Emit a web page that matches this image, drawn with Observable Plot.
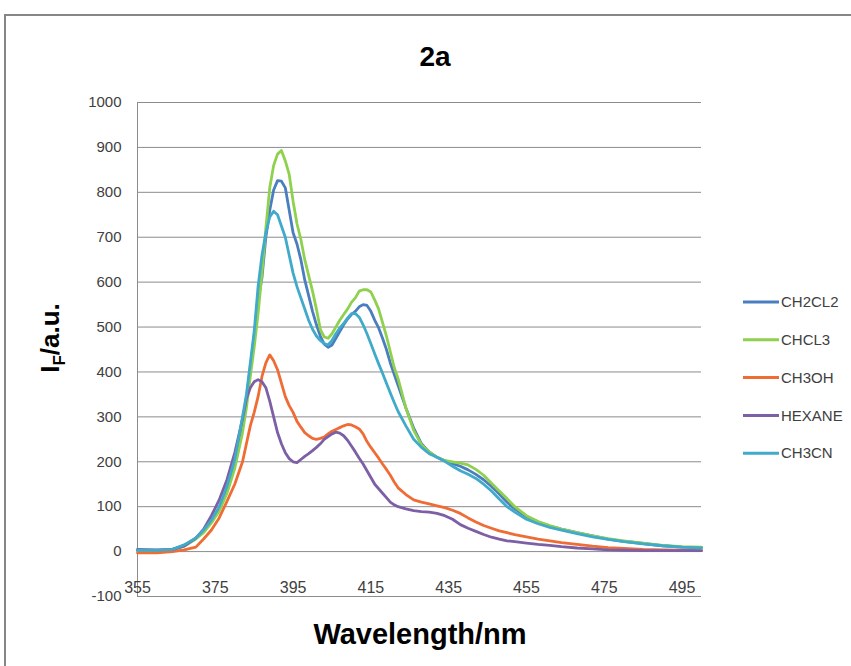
<!DOCTYPE html>
<html><head><meta charset="utf-8">
<script src="https://cdn.jsdelivr.net/npm/d3@7"></script>
<script src="https://cdn.jsdelivr.net/npm/@observablehq/plot@0.6"></script>
<style>body{margin:0;background:#fff;} #chart svg{display:block;}</style>
</head><body><div id="chart"></div>
<script>
const wavelength = [355,360,364,367,370,372,374,376,378,380,382,383,384,385,386,387,388,389,390,391,392,393,394,395,396,397,398,399,400,401,402,403,404,405,406,407,408,409,410,411,412,413,414,415,416,417,418,419,420,421,422,424,426,428,430,432,434,436,438,440,442,444,446,448,450,452,455,458,461,464,468,472,476,480,485,490,495,500];
const ch2cl2 = [2,2,5,14,30,45,68,95,140,195,285,340,410,480,560,610,700,760,805,826,825,810,760,710,685,650,605,570,535,505,480,462,455,460,475,490,505,518,528,535,545,550,548,535,515,498,475,450,420,395,370,320,275,240,222,210,202,196,190,182,172,160,145,128,110,95,78,66,57,50,42,35,28,23,18,13,10,9];
const chcl3 = [2,2,4,12,28,42,64,90,130,185,265,320,390,455,530,620,720,810,860,885,893,870,840,780,730,695,650,615,580,540,495,478,475,485,500,515,528,540,555,565,580,583,583,578,560,540,510,480,445,410,385,320,270,238,222,210,203,200,197,193,183,170,152,135,118,100,80,67,58,50,42,35,29,24,19,14,11,10];
const ch3oh = [-3,-3,0,4,10,28,48,75,112,150,200,240,280,310,345,390,420,438,425,405,375,345,325,310,290,277,265,258,252,250,252,255,262,268,272,276,280,283,282,278,273,262,245,232,220,208,195,183,170,155,142,127,115,110,106,102,98,92,85,75,66,58,52,46,42,38,33,28,24,20,16,12,9,7,5,4,3,2];
const hexane = [5,4,5,12,30,50,80,115,160,220,295,340,365,378,383,378,365,335,300,265,240,220,207,200,198,205,212,218,225,232,240,250,256,262,266,264,258,248,235,222,208,195,180,165,150,140,130,120,110,104,100,95,91,89,88,85,80,72,60,52,45,38,32,28,24,22,19,16,14,11,8,6,4,3,2,2,2,2];
const ch3cn = [3,3,5,15,30,48,70,100,145,205,300,350,420,490,590,660,710,745,758,750,725,700,660,620,590,565,540,515,495,480,470,463,460,470,485,498,508,520,530,530,522,505,485,463,440,418,397,375,353,332,312,280,250,232,218,210,201,190,180,172,163,150,135,117,100,88,72,62,54,48,40,33,27,22,17,13,10,8];

const seriesNames = ["CH2CL2","CHCL3","CH3OH","HEXANE","CH3CN"];
const seriesColors = ["#4a7ebf","#8fd14f","#ef6c35","#7d5fa6","#40aacb"];
const xTicks = [355,375,395,415,435,455,475,495];
const yTicks = [-100,0,100,200,300,400,500,600,700,800,900,1000];
const titleText = "2a";
const xTitle = "Wavelength/nm";

const series = [ch2cl2, chcl3, ch3oh, hexane, ch3cn];
const rows = seriesNames.flatMap((name, i) => wavelength.map((w, j) => ({name, w, v: series[i][j]})));

const font = "'Liberation Sans', Arial, sans-serif";
const plot = Plot.plot({
  width: 851, height: 666,
  marginLeft: 137, marginRight: 150, marginTop: 102, marginBottom: 70,
  x: {domain: [355, 500], axis: null},
  y: {domain: [-100, 1000], axis: null},
  color: {domain: seriesNames, range: seriesColors},
  style: {fontFamily: font, fontSize: "15px", color: "#404040", background: "#fff"},
  marks: [
    Plot.ruleY(yTicks, {stroke: "#8c8c8c", strokeWidth: 1}),
    Plot.ruleX([355], {stroke: "#8c8c8c", strokeWidth: 1}),
    Plot.axisY({ticks: yTicks, tickSize: 0, tickPadding: 16, label: null, tickFormat: d => String(d), fontSize: 15, fill: "#404040"}),
    Plot.text(xTicks, {x: d => d, y: -100, dy: -4, lineAnchor: "bottom", text: d => String(d), fontSize: 16, fill: "#404040"}),
    Plot.line(rows, {x: "w", y: "v", z: "name", stroke: "name", strokeWidth: 2.8, curve: "linear"})
  ]
});
document.getElementById("chart").appendChild(plot);

const svg = d3.select(plot);
svg.append("rect").attr("x", 5).attr("y", 15).attr("width", 900).attr("height", 700)
  .attr("fill", "none").attr("stroke", "#868686").attr("stroke-width", 2);
svg.append("text").attr("x", 435).attr("y", 66).attr("text-anchor", "middle")
  .attr("font-family", font).attr("font-weight", "bold").attr("font-size", 28).attr("fill", "#000").text(titleText);
svg.append("text").attr("x", 420).attr("y", 644).attr("text-anchor", "middle")
  .attr("font-family", font).attr("font-weight", "bold").attr("font-size", 29).attr("fill", "#000").text(xTitle);
const yt = svg.append("text").attr("transform", "translate(59,338) rotate(-90)").attr("text-anchor", "middle")
  .attr("font-family", font).attr("font-weight", "bold").attr("font-size", 26).attr("fill", "#000");
yt.append("tspan").text("I");
yt.append("tspan").attr("font-size", 17).attr("dy", 6).text("F");
yt.append("tspan").attr("dy", -6).text("/a.u.");

const leg = svg.append("g");
seriesNames.forEach((name, i) => {
  const y = 302 + 37.8 * i;
  leg.append("line").attr("x1", 743).attr("x2", 779).attr("y1", y).attr("y2", y)
    .attr("stroke", seriesColors[i]).attr("stroke-width", 3);
  leg.append("text").attr("x", 781).attr("y", y).attr("dy", "0.35em").attr("text-anchor", "start")
    .attr("font-family", font).attr("font-size", 15).attr("fill", "#404040").text(name);
});
</script>
</body></html>
